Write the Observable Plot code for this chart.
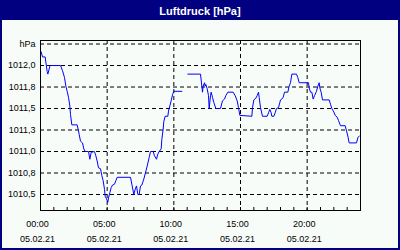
<!DOCTYPE html>
<html>
<head>
<meta charset="utf-8">
<script src="https://cdn.jsdelivr.net/npm/d3@7"></script>
<script src="https://cdn.jsdelivr.net/npm/@observablehq/plot@0.6"></script>
<style>
  html, body { margin: 0; padding: 0; background: #ffffff; }
  #frame { position: relative; width: 400px; height: 250px; box-sizing: border-box;
    border: 2px solid #000080; background: #f8fcf8; overflow: hidden; }
  #title { position: absolute; left: 0; top: 0; width: 396px; height: 18px; background: #000080;
    color: #ffffff; font: bold 11px "Liberation Sans", Arial, sans-serif; text-align: center; line-height: 18px; }
  #chart { position: absolute; left: 0; top: 18px; }
</style>
</head>
<body>
<div id="frame">
  <div id="title">Luftdruck [hPa]</div>
  <div id="chart"></div>
</div>
<script>
const titleText = "Luftdruck [hPa]";
// hours since 00:00 on 05.02.21 (null value = gap in the record)
const hours = [0.05,0.15,0.35,0.40,0.50,0.55,0.70,0.75,1.50,1.65,1.80,1.90,2.00,2.10,2.20,2.25,2.35,2.75,2.85,2.90,3.00,3.15,3.25,3.35,3.60,3.70,3.80,4.05,4.15,4.25,4.35,4.50,4.60,4.70,4.80,4.85,4.95,5.05,5.10,5.20,5.30,5.40,5.55,5.65,5.75,6.75,
  6.85,7.00,7.10,7.20,7.30,7.40,7.50,7.60,7.75,7.85,8.00,8.15,8.25,8.45,8.55,8.70,8.80,8.90,9.05,9.10,9.20,9.25,9.35,9.55,9.60,9.70,9.80,9.90,10.00,10.60,10.80,11.05,12.00,
  12.15,12.20,12.30,12.35,12.40,12.50,12.60,12.65,12.75,12.80,12.90,13.00,13.15,13.50,13.65,13.80,13.90,14.05,14.45,14.60,14.75,14.85,14.95,15.85,15.90,16.00,16.15,16.25,16.35,16.40,16.50,16.65,17.00,17.10,17.20,17.30,17.35,17.50,17.60,17.70,17.85,
  17.95,18.00,18.10,18.20,18.30,18.55,18.65,18.75,18.85,19.20,19.30,19.40,20.10,20.15,20.25,20.35,20.45,20.55,20.70,20.80,20.90,20.95,21.05,21.15,21.65,21.75,21.85,22.00,22.10,22.25,22.35,22.50,22.85,22.95,23.05,23.15,23.70,23.80,23.90];
const pressure = [1012.16,1012.10,1012.10,1012.04,1011.93,1011.90,1011.99,1012.00,1012.00,1011.94,1011.86,1011.76,1011.70,1011.63,1011.53,1011.43,1011.31,1011.31,1011.24,1011.20,1011.12,1011.10,1011.03,1011.00,1011.00,1010.91,1010.99,1011.00,1010.95,1010.89,1010.81,1010.80,1010.72,1010.66,1010.56,1010.48,1010.45,1010.41,1010.46,1010.52,1010.58,1010.61,1010.62,1010.66,1010.70,1010.70,
  1010.62,1010.50,1010.56,1010.60,1010.50,1010.50,1010.60,1010.61,1010.68,1010.74,1010.83,1010.93,1011.00,1011.00,1010.95,1010.91,1010.97,1011.00,1011.03,1011.14,1011.26,1011.35,1011.41,1011.41,1011.47,1011.53,1011.59,1011.66,1011.70,1011.70,null,1011.90,1011.90,
  1011.69,1011.76,1011.80,1011.76,1011.78,1011.73,1011.65,1011.50,1011.65,1011.69,1011.63,1011.57,1011.50,1011.50,1011.59,1011.61,1011.65,1011.69,1011.69,1011.65,1011.59,1011.51,1011.42,1011.41,1011.51,1011.60,1011.62,1011.65,1011.69,1011.63,1011.51,1011.41,1011.41,1011.45,1011.49,1011.45,1011.41,1011.41,1011.45,1011.50,1011.51,
  1011.57,1011.60,1011.61,1011.63,1011.69,1011.69,1011.76,1011.80,1011.90,1011.90,1011.86,1011.80,1011.80,1011.74,1011.69,1011.69,1011.61,1011.65,1011.70,1011.76,1011.80,1011.74,1011.69,1011.60,1011.60,1011.55,1011.50,1011.46,1011.42,1011.40,1011.36,1011.30,1011.30,1011.24,1011.18,1011.10,1011.10,1011.16,1011.18];

const xDomain = [0, 24];
const yDomain = [1010.314, 1012.291];
const yTicks = [1010.5, 1010.75, 1011.0, 1011.25, 1011.5, 1011.75, 1012.0, 1012.25];
const yTickLabels = ["1010,5", "1010,8", "1011,0", "1011,3", "1011,5", "1011,8", "1012,0", "hPa"];
const xGridHours = [5, 10, 15, 20];
const xLabelHours = [0, 5, 10, 15, 20];
const timeLabels = ["00:00", "05:00", "10:00", "15:00", "20:00"];
const dateLabels = ["05.02.21", "05.02.21", "05.02.21", "05.02.21", "05.02.21"];
const hourTicks = d3.range(0, 25);

document.getElementById("title").textContent = titleText;
const rows = hours.map((h, i) => ({h, v: pressure[i]}));

const chart = Plot.plot({
  width: 396,
  height: 228,
  marginLeft: 38,
  marginRight: 38,
  marginTop: 20,
  marginBottom: 38,
  style: {background: "transparent", fontFamily: "'Liberation Sans', Arial, sans-serif", fontSize: "9px", color: "black"},
  x: {domain: xDomain},
  y: {domain: yDomain},
  marks: [
    Plot.ruleY(yTicks, {stroke: "black", strokeDasharray: "4,3"}),
    Plot.ruleX(xGridHours, {stroke: "black", strokeDasharray: "4,3"}),
    Plot.ruleX(hourTicks, {stroke: "black", insetTop: 167}),
    Plot.line(rows, {x: "h", y: "v", stroke: "#0000ff", strokeWidth: 1}),
    Plot.frame({stroke: "black"}),
    Plot.axisY({ticks: yTicks, tickFormat: d => yTickLabels[yTicks.indexOf(d)], tickSize: 0, tickPadding: 5, label: null, fill: "black"}),
    Plot.axisX({ticks: xLabelHours, tickFormat: d => timeLabels[xLabelHours.indexOf(d)], tickSize: 0, tickPadding: 10, dx: -3, label: null, fill: "black"}),
    Plot.axisX({ticks: xLabelHours, tickFormat: d => dateLabels[xLabelHours.indexOf(d)], tickSize: 0, tickPadding: 25, dx: -3, label: null, fill: "black"})
  ]
});
document.getElementById("chart").appendChild(chart);
</script>
</body>
</html>
